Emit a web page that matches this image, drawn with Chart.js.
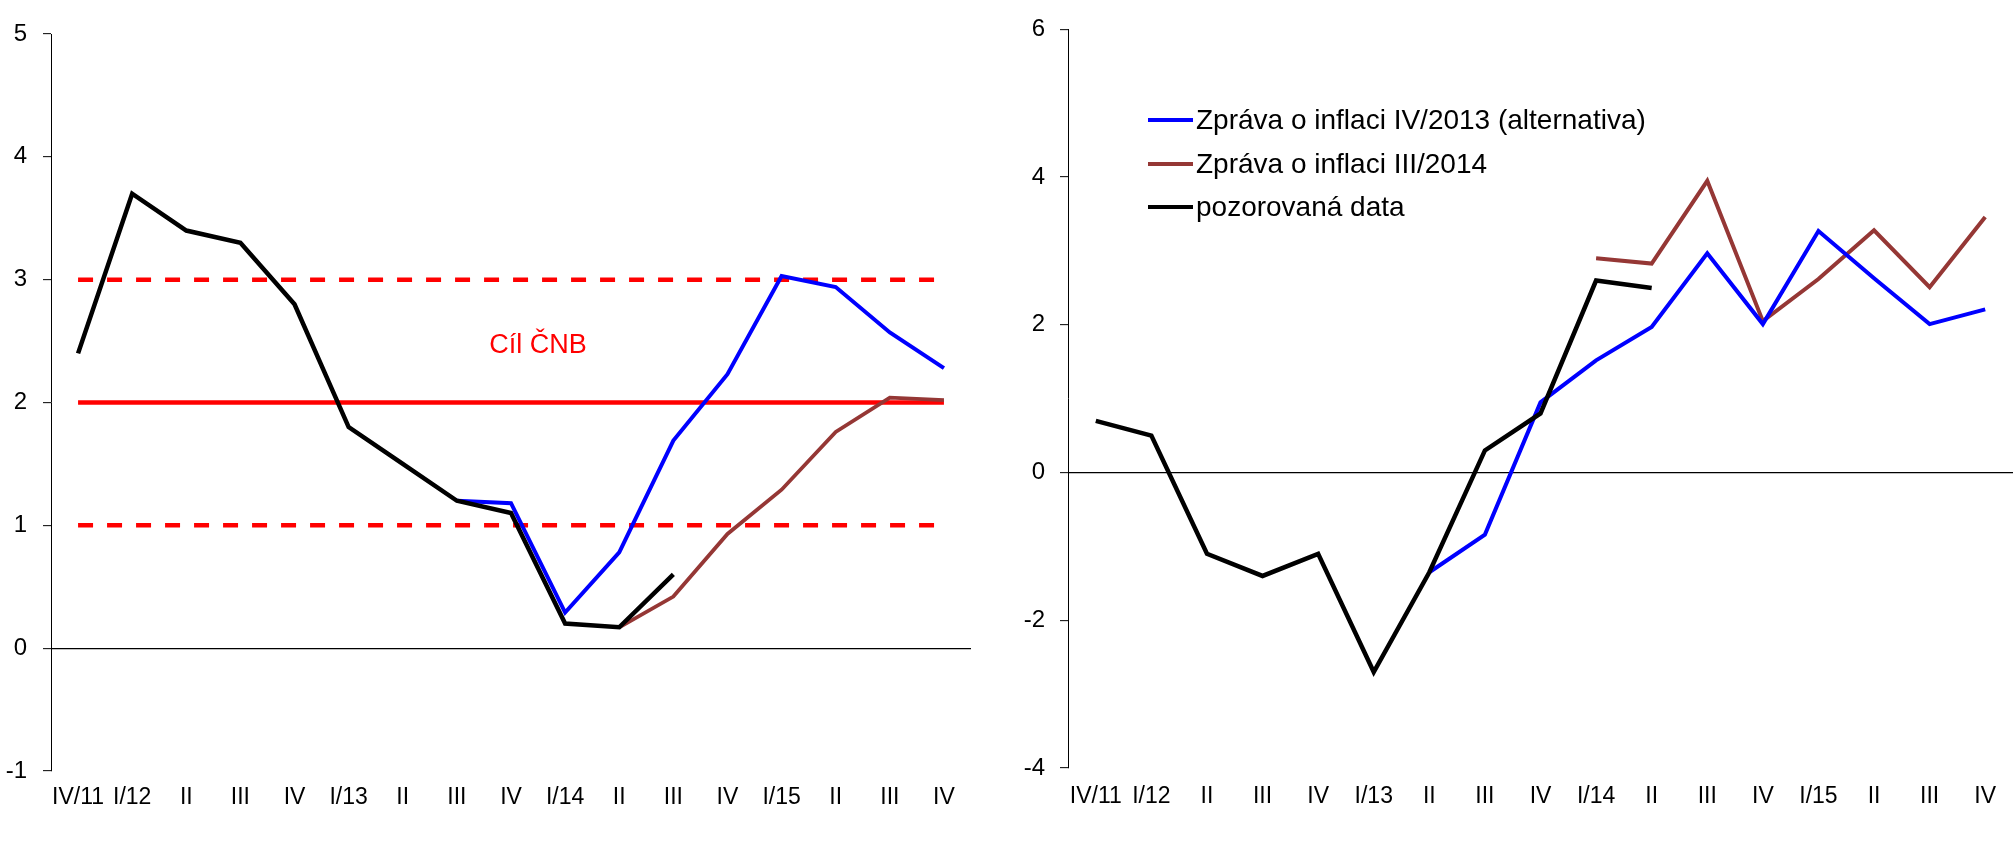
<!DOCTYPE html>
<html><head><meta charset="utf-8">
<script src="https://cdn.jsdelivr.net/npm/chart.js@4.4.1/dist/chart.umd.min.js"></script>
<style>
html,body{margin:0;padding:0;background:#fff;width:2014px;height:856px;overflow:hidden;}
#c1{position:absolute;left:0;top:0;}
#c2{position:absolute;left:1000px;top:0;}
#legend{position:absolute;left:1148px;top:0;font-family:"Liberation Sans",Arial,sans-serif;font-size:28px;color:#000;}
.item{position:absolute;left:0;white-space:nowrap;height:28px;line-height:28px;}
.swatch{position:absolute;left:0;width:45px;height:4px;top:12px;}
.txt{position:absolute;left:48px;top:0;}
</style></head>
<body>
<canvas id="c1" width="1000" height="856"></canvas>
<canvas id="c2" width="1014" height="856"></canvas>
<div id="legend"></div>
<script>
// ---------- data ----------
const categories = ['IV/11','I/12','II','III','IV','I/13','II','III','IV','I/14','II','III','IV','I/15','II','III','IV'];

// Left panel
const leftObserved = [2.4, 3.7, 3.4, 3.3, 2.8, 1.8, 1.5, 1.2, 1.1, 0.2, 0.17, 0.6, null, null, null, null, null];
const leftAlt2013  = [null, null, null, null, null, null, null, 1.2, 1.18, 0.29, 0.78, 1.69, 2.23, 3.03, 2.94, 2.57, 2.28];
const leftIII2014  = [null, null, null, null, null, null, null, null, null, null, 0.17, 0.42, 0.93, 1.29, 1.76, 2.04, 2.02];
const cnbTarget    = [2, 2, 2, 2, 2, 2, 2, 2, 2, 2, 2, 2, 2, 2, 2, 2, 2];
const bandUpper    = [3, 3, 3, 3, 3, 3, 3, 3, 3, 3, 3, 3, 3, 3, 3, 3, 3];
const bandLower    = [1, 1, 1, 1, 1, 1, 1, 1, 1, 1, 1, 1, 1, 1, 1, 1, 1];
const leftTicks    = {min: -1, max: 5, step: 1};
const targetLabel  = 'Cíl ČNB';
const targetLabelAt = {index: 8.5, value: 2.46};

// Right panel
const rightObserved = [0.7, 0.5, -1.1, -1.4, -1.1, -2.7, -1.35, 0.3, 0.8, 2.6, 2.5, null, null, null, null, null, null];
const rightAlt2013  = [null, null, null, null, null, null, -1.35, -0.84, 0.95, 1.52, 1.97, 2.97, 2.01, 3.27, 2.63, 2.01, 2.21];
const rightIII2014  = [null, null, null, null, null, null, null, null, null, 2.9, 2.83, 3.95, 2.05, 2.62, 3.28, 2.51, 3.46];
const rightTicks    = {min: -4, max: 6, step: 2};

const seriesNames = ['Zpráva o inflaci IV/2013 (alternativa)', 'Zpráva o inflaci III/2014', 'pozorovaná data'];

// ---------- styles ----------
const FONT = '"Liberation Sans", Arial, sans-serif';
const BLUE = '#0000ff', BROWN = '#953735', BLACK = '#000000', RED = '#ff0000';

function line(label, data, color, width, extra) {
  return Object.assign({
    label, data, borderColor: color, backgroundColor: color, borderWidth: width,
    pointRadius: 0, pointHoverRadius: 0, tension: 0, fill: false, spanGaps: false
  }, extra || {});
}

function scales(t, yWidth, xHeight, xPad, yPad) {
  return {
    x: {
      type: 'category', offset: true,
      grid: {display: false, drawTicks: false},
      border: {display: false},
      ticks: {padding: xPad, color: '#000', font: {family: FONT, size: 23}, autoSkip: false, maxRotation: 0, minRotation: 0},
      afterFit: s => { s.height = xHeight; }
    },
    y: {
      min: t.min, max: t.max,
      ticks: {stepSize: t.step, padding: yPad, color: '#000', font: {family: FONT, size: 24}},
      grid: {
        drawOnChartArea: true, drawTicks: true, tickLength: 8, tickColor: '#000', tickWidth: 1,
        color: c => (c.tick && c.tick.value === 0) ? '#000' : 'rgba(0,0,0,0)', lineWidth: 1.3
      },
      border: {display: true, color: '#000', width: 1},
      afterFit: s => { s.width = yWidth; }
    }
  };
}

const labelPlugin = {
  id: 'targetLabel',
  afterDatasetsDraw(chart) {
    const {ctx, scales: {x, y}} = chart;
    ctx.save();
    ctx.fillStyle = RED;
    ctx.font = '27px ' + FONT;
    ctx.textAlign = 'center';
    ctx.textBaseline = 'middle';
    ctx.fillText(targetLabel, x.getPixelForValue(targetLabelAt.index), y.getPixelForValue(targetLabelAt.value));
    ctx.restore();
  }
};

const common = {
  responsive: false, maintainAspectRatio: false, devicePixelRatio: 1, animation: false,
  plugins: {legend: {display: false}, tooltip: {enabled: false}},
  events: []
};

new Chart(document.getElementById('c1'), {
  type: 'line',
  data: {
    labels: categories,
    datasets: [
      line(seriesNames[2], leftObserved, BLACK, 4.5),
      line(seriesNames[0], leftAlt2013, BLUE, 4),
      line(seriesNames[1], leftIII2014, BROWN, 3.8),
      line('cíl', cnbTarget, RED, 4.5),
      line('horní mez', bandUpper, RED, 4.5, {borderDash: [15, 14]}),
      line('dolní mez', bandLower, RED, 4.5, {borderDash: [15, 14]})
    ]
  },
  options: Object.assign({}, common, {
    layout: {padding: {top: 34, right: 29, left: 0, bottom: 0}},
    scales: scales(leftTicks, 51, 85, 13, 16)
  }),
  plugins: [labelPlugin]
});

const rightChart = new Chart(document.getElementById('c2'), {
  type: 'line',
  data: {
    labels: categories,
    datasets: [
      line(seriesNames[2], rightObserved, BLACK, 4.5),
      line(seriesNames[0], rightAlt2013, BLUE, 4),
      line(seriesNames[1], rightIII2014, BROWN, 4)
    ]
  },
  options: Object.assign({}, common, {
    layout: {padding: {top: 28, right: 1, left: 0, bottom: 0}},
    scales: scales(rightTicks, 68, 88, 15, 15)
  })
});

// HTML legend built from the right chart's datasets (in the reference's order)
const legendOrder = [1, 2, 0];
const legendTops = [106, 150, 193];
const lg = document.getElementById('legend');
legendOrder.forEach((di, i) => {
  const ds = rightChart.data.datasets[di];
  const item = document.createElement('div');
  item.className = 'item';
  item.style.top = legendTops[i] + 'px';
  const sw = document.createElement('span');
  sw.className = 'swatch';
  sw.style.background = ds.borderColor;
  const tx = document.createElement('span');
  tx.className = 'txt';
  tx.textContent = ds.label;
  item.appendChild(sw); item.appendChild(tx);
  lg.appendChild(item);
});
</script>
</body></html>
